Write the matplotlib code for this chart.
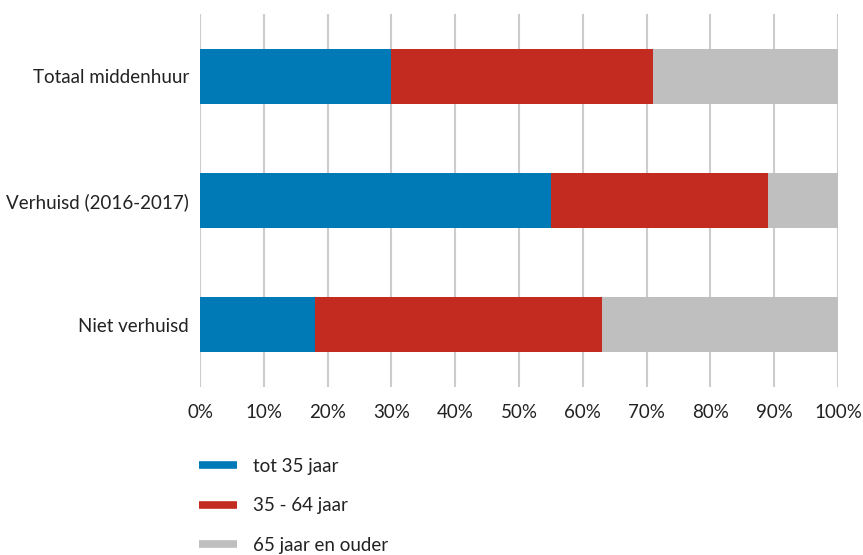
import matplotlib.pyplot as plt
from matplotlib.lines import Line2D

categories = ["Niet verhuisd", "Verhuisd (2016-2017)", "Totaal middenhuur"]
tot_35 = [18, 55, 30]
van_35_64 = [45, 34, 41]
vanaf_65 = [37, 11, 29]
series_labels = ["tot 35 jaar", "35 - 64 jaar", "65 jaar en ouder"]
colors = ["#007ab6", "#c42b20", "#bfbfbf"]
ticks = [0, 10, 20, 30, 40, 50, 60, 70, 80, 90, 100]


def main():
    plt.rcParams['font.family'] = ['Lato', 'DejaVu Sans']
    fig = plt.figure(figsize=(8.63, 5.55), dpi=100)
    ax = fig.add_axes([200 / 863, 1 - 387 / 555, 638 / 863, 373 / 555])

    # gestapelde balken
    left = [0, 0, 0]
    for vals, col in zip([tot_35, van_35_64, vanaf_65], colors):
        ax.barh(categories, vals, left=left, height=0.44, color=col, zorder=3)
        left = [a + b for a, b in zip(left, vals)]

    ax.set_xlim(0, 100)
    ax.set_ylim(-0.5, 2.5)
    ax.set_xticks(ticks)
    ax.set_xticklabels([f"{t}%" for t in ticks])
    ax.grid(axis='x', color='#cccccc', linewidth=1.5, zorder=0)
    ax.tick_params(axis='x', length=0, pad=12, labelsize=13.5, colors='#222222')
    ax.tick_params(axis='y', length=0, pad=8, labelsize=13.5, colors='#222222')
    for s in ax.spines.values():
        s.set_visible(False)

    handles = [Line2D([], [], color=c, linewidth=5.5, solid_capstyle='butt') for c in colors]
    fig.legend(handles, series_labels, loc='upper left',
               bbox_to_anchor=(199 / 863, 1 - 458 / 555), frameon=False,
               fontsize=13.5, handlelength=2.0, handletextpad=0.9,
               labelspacing=1.2, borderpad=0, borderaxespad=0,
               labelcolor='#222222')

    fig.savefig("out.png", dpi=100)


if __name__ == '__main__':
    main()
